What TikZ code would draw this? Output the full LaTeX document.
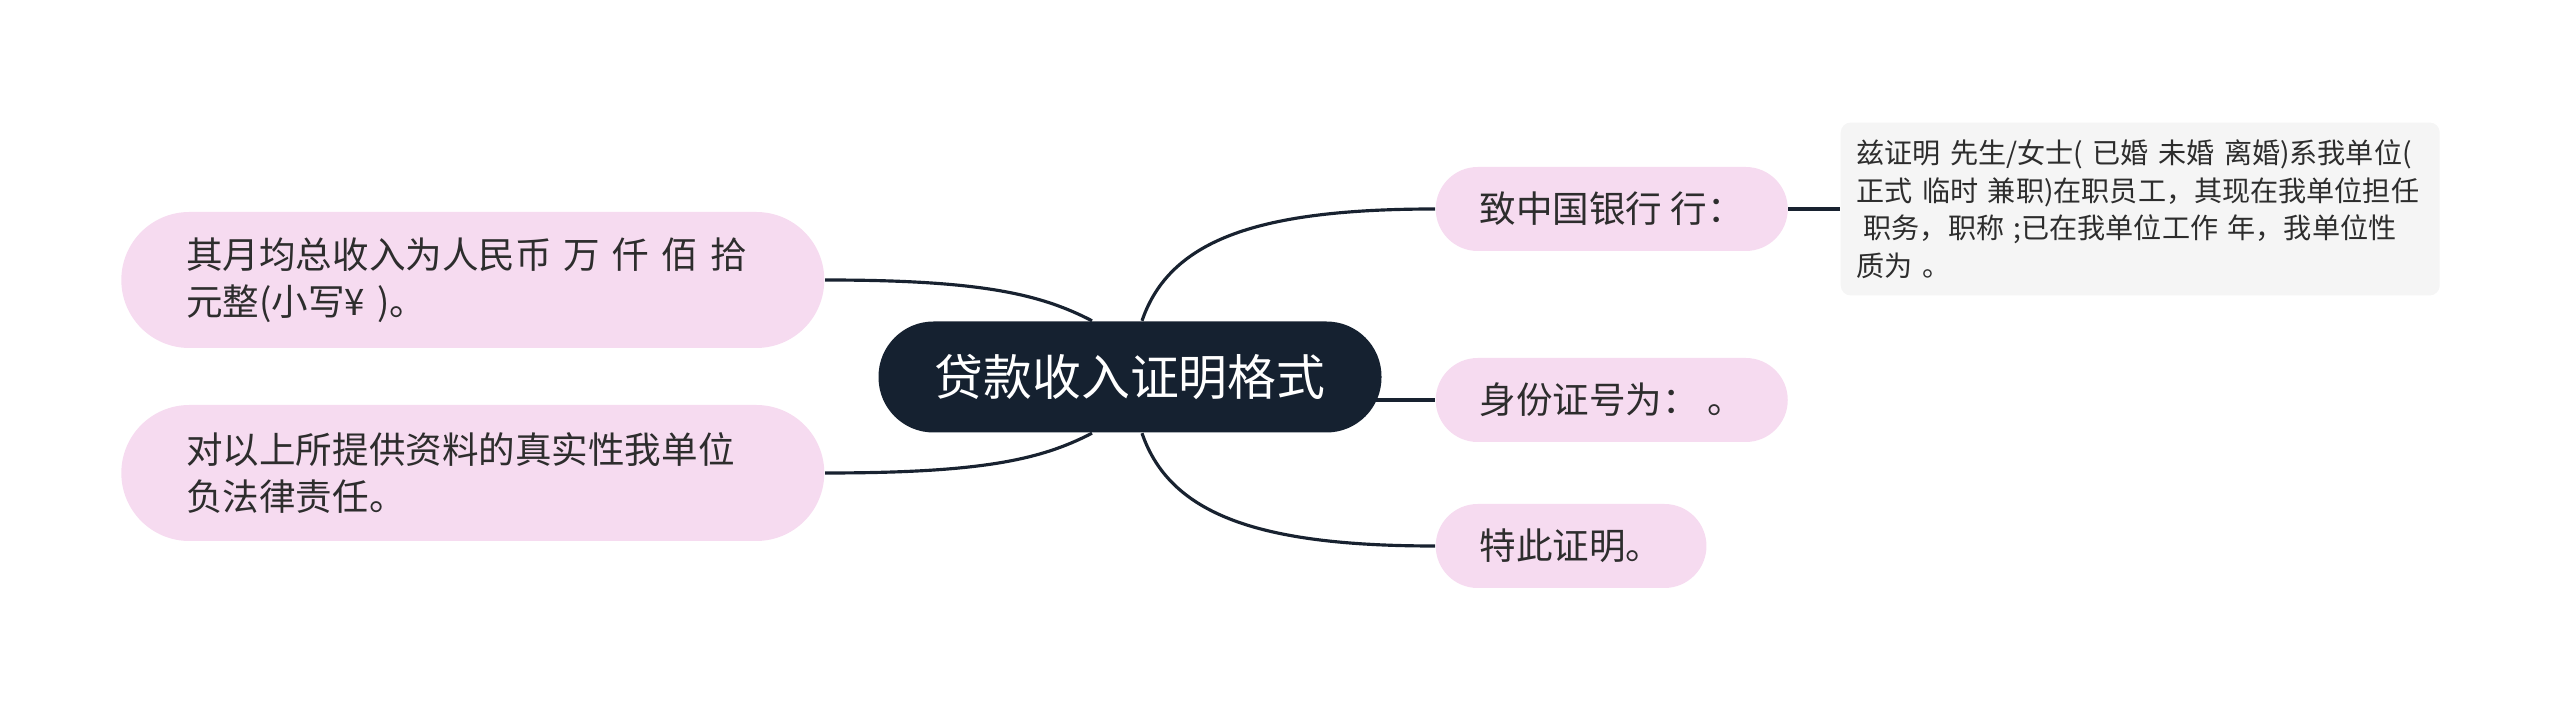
\documentclass[tikz,border=0pt]{standalone}
\usepackage{fontspec}
\setmainfont{Noto Sans CJK SC}
\usetikzlibrary{
  positioning,
  backgrounds,
  calc
}
\definecolor{rootbg}{RGB}{21,33,48}
\definecolor{topicbg}{RGB}{246,219,240}
\definecolor{notebg}{RGB}{245,245,245}
\definecolor{ink}{RGB}{45,45,45}
\definecolor{branch}{RGB}{24,34,48}

\begin{document}
\begin{tikzpicture}[
  central/.style={fill=rootbg, rounded corners=0.55cm, minimum width=5.03cm,
                  minimum height=1.11cm, text=white,
                  font=\fontsize{13.9}{16}\selectfont},
  topic/.style={fill=topicbg, rounded corners=0.42cm, minimum height=0.84cm,
                inner xsep=0.44cm, text=ink, font=\fontsize{10.4}{13.4}\selectfont},
  longtopic/.style={topic, rounded corners=0.68cm, minimum height=1.36cm,
                    text width=5.73cm, inner xsep=0.65cm, align=left},
  note/.style={fill=notebg, rounded corners=0.1cm, text width=5.67cm,
               inner xsep=0.16cm, inner ysep=0.17cm, align=left, text=ink,
               font=\fontsize{8}{10.7}\selectfont},
  link/.style={draw=branch, line width=0.9pt}
]
\useasboundingbox (0,0) rectangle (25.6,-7.11);

\node[central] (root) at (11.30,-3.77) {贷款收入证明格式};

\node[topic, anchor=west] (bank) at (14.35,-2.09) {致中国银行 行：};
\node[topic, anchor=west] (idno) at (14.35,-4.00) {身份证号为： 。};
\node[topic, anchor=west] (fin)  at (14.35,-5.46) {特此证明。};

\node[note, anchor=west] (detail) at (18.40,-2.09)
  {兹证明 先生/女士( 已婚 未婚 离婚)系我单位(\\
   正式 临时 兼职)在职员工，其现在我单位担任\\
   \hspace*{0.25em}职务，职称 ;已在我单位工作 年，我单位性\\
   质为 。};

\node[longtopic, anchor=east] (income) at (8.25,-2.80)
  {其月均总收入为人民币 万 仟 佰 拾\\元整(小写¥ )。};
\node[longtopic, anchor=east] (duty) at (8.25,-4.73)
  {对以上所提供资料的真实性我单位\\负法律责任。};

\begin{scope}[on background layer]
\draw[link] (income.east) .. controls +(1.55,0) and +(-0.52,0.27) .. ($(root.north)+(-0.38,0)$);
\draw[link] (duty.east) .. controls +(1.55,0) and +(-0.52,-0.27) .. ($(root.south)+(-0.38,0)$);
\draw[link] ($(root.north)+(0.12,0)$) .. controls +(0.28,0.82) and +(-1.75,0) .. (bank.west);
\draw[link] ($(root.south)+(0.12,0)$) .. controls +(0.28,-0.82) and +(-1.75,0) .. (fin.west);
\draw[link] (root.center |- idno.west) -- (idno.west);
\draw[link] (bank.east) -- (bank.east -| detail.west);
\end{scope}

\end{tikzpicture}
\end{document}
